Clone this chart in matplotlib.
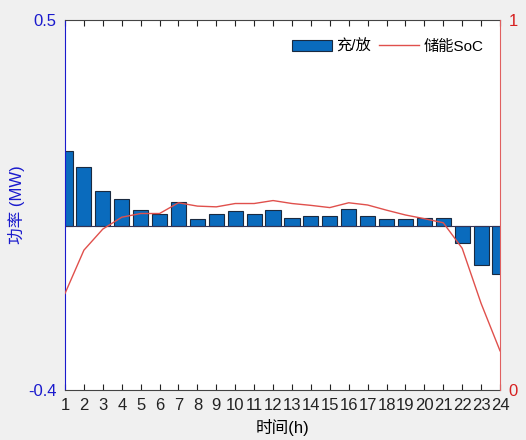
import matplotlib
matplotlib.use('Agg')
import matplotlib.pyplot as plt
import numpy as np

plt.rcParams['font.family'] = ['Liberation Sans', 'Noto Sans CJK SC', 'DejaVu Sans']

# hourly data
hours = list(range(1, 25))
power = [0.181, 0.142, 0.083, 0.064, 0.037, 0.028, 0.057, 0.017, 0.028, 0.036,
         0.028, 0.038, 0.019, 0.023, 0.023, 0.040, 0.023, 0.016, 0.016, 0.018,
         0.019, -0.043, -0.096, -0.118]
soc = [0.261, 0.378, 0.435, 0.467, 0.477, 0.477, 0.506, 0.497, 0.495, 0.504,
       0.504, 0.512, 0.504, 0.499, 0.493, 0.506, 0.500, 0.486, 0.473, 0.463,
       0.452, 0.383, 0.234, 0.106]

blue_axis = '#1a1acd'
red_axis = '#d62020'

fig = plt.figure(figsize=(5.26, 4.4), dpi=100, facecolor='#f0f0f0')
ax = fig.add_axes([0.1236, 0.1136, 0.827, 0.841])
ax.set_facecolor('white')

bars = ax.bar(hours, power, width=0.8, color='#0a6bbd', edgecolor='#1a2a40', linewidth=0.8, label='充/放')
ax.axhline(0, color='#333355', linewidth=0.8)
ax.set_xlim(1, 24)
ax.set_ylim(-0.4, 0.5)
ax.set_yticks([-0.4, 0.5])
ax.set_yticklabels(['-0.4', '0.5'])
ax.set_xticks(hours)
ax.tick_params(axis='x', direction='in', top=True, length=4, labelsize=12, pad=6, colors='#222222')
ax.tick_params(axis='y', length=0, labelsize=12, colors=blue_axis, pad=6)
ax.set_ylabel('功率 (MW)', color=blue_axis, fontsize=12, labelpad=2)
ax.set_xlabel('时间(h)', fontsize=12, labelpad=4)
ax.spines['left'].set_color(blue_axis)
ax.spines['top'].set_color('#444444')
ax.spines['bottom'].set_color('#444444')
ax.spines['right'].set_visible(False)
for s in ax.spines.values():
    s.set_linewidth(0.8)

ax2 = ax.twinx()
line, = ax2.plot(hours, soc, color='#e0504c', linewidth=1.0, label='储能SoC')
ax2.set_ylim(0, 1)
ax2.set_yticks([0, 1])
ax2.tick_params(axis='y', length=0, labelsize=12, colors=red_axis, pad=6)
ax2.spines['right'].set_color('#e06060')
ax2.spines['right'].set_linewidth(0.8)
for k in ['left', 'top', 'bottom']:
    ax2.spines[k].set_visible(False)
ax2.set_ylabel('储能SoC', color=red_axis, fontsize=12, labelpad=16)

ax.legend([bars, line], ['充/放', '储能SoC'], loc='upper right', ncol=2, frameon=False,
          fontsize=11, bbox_to_anchor=(0.993, 0.985), handlelength=2.6, columnspacing=0.5,
          handletextpad=0.3)

fig.savefig('out.png', dpi=100, facecolor=fig.get_facecolor())
